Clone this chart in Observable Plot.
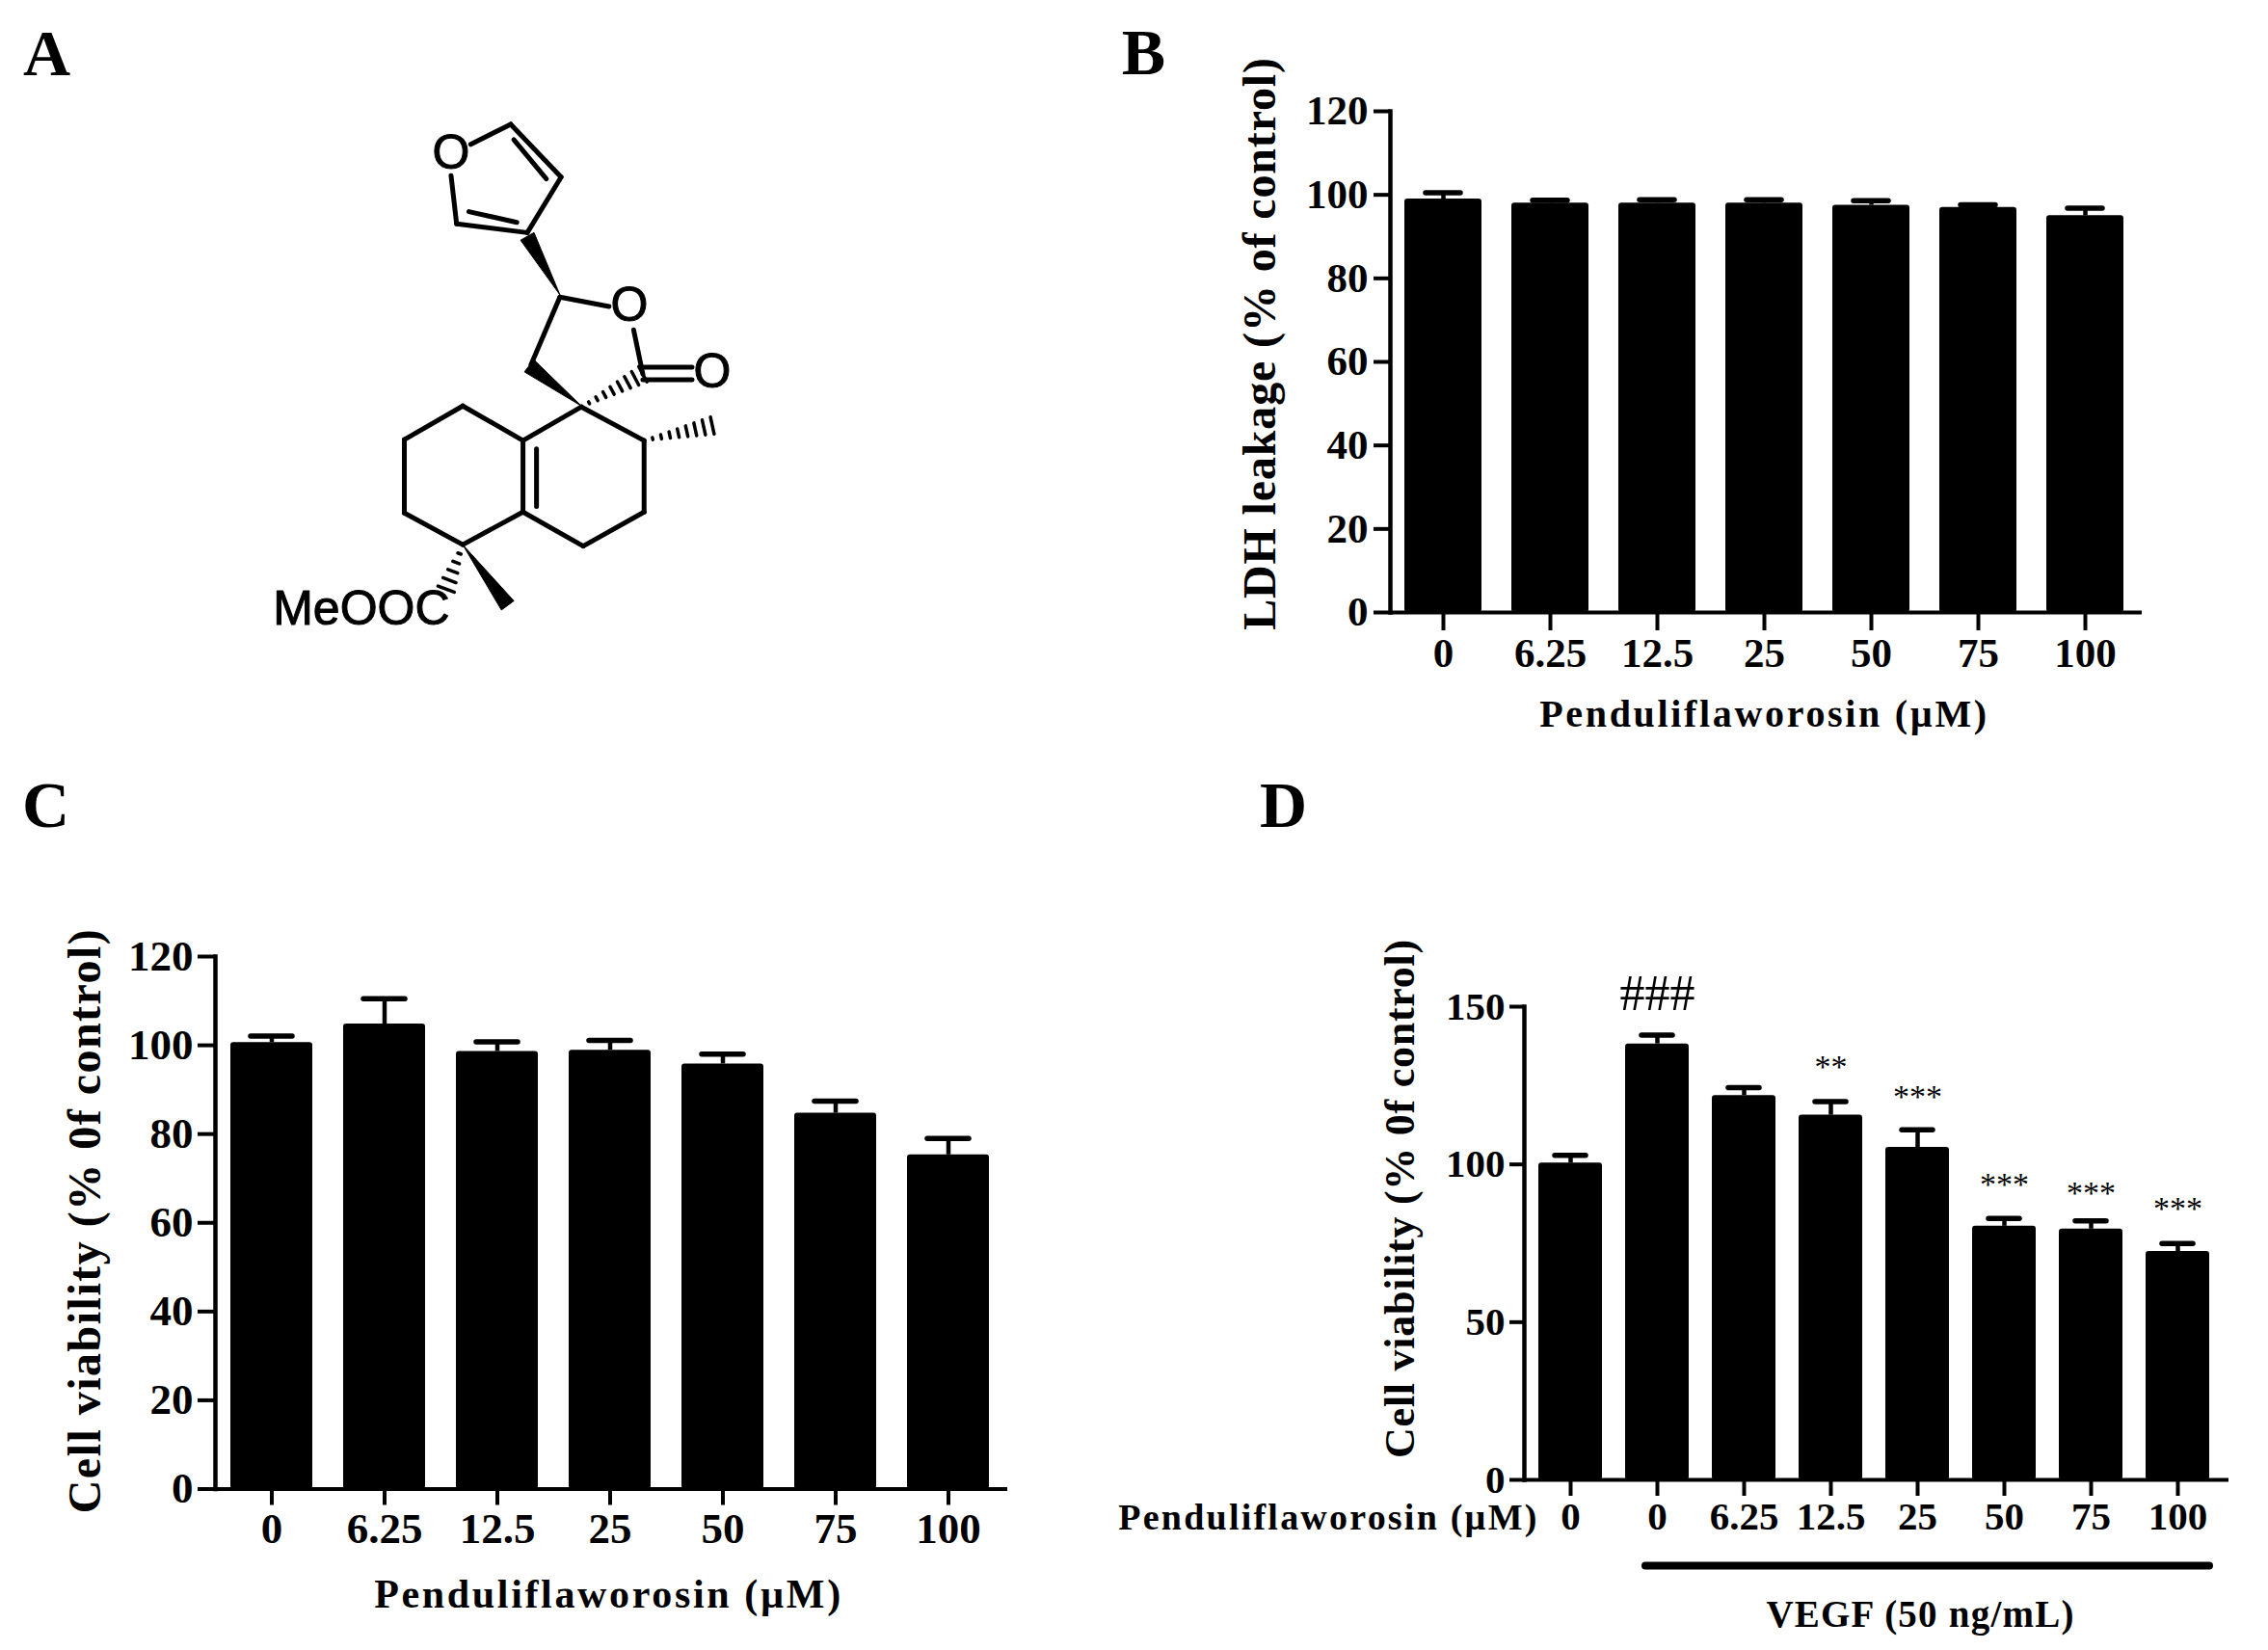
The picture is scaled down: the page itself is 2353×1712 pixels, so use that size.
<!DOCTYPE html>
<html><head><meta charset="utf-8">
<script src="https://cdn.jsdelivr.net/npm/d3@7"></script>
<script src="https://cdn.jsdelivr.net/npm/@observablehq/plot@0.6"></script>
<style>
html,body{margin:0;padding:0;background:#fff}
#page{position:relative;width:2353px;height:1712px;overflow:hidden;background:#fff}
#page svg{position:absolute;overflow:visible;max-width:none;background:transparent}
</style></head><body><div id="page"></div>
<script>
// Panel B
const dosesB = ["0","6.25","12.5","25","50","75","100"];
const ldhMean = [99,98,98,98,97.5,97,95];
const ldhUpper = [100.5,98.7,98.8,98.8,98.6,97.6,96.8];
// Panel C
const dosesC = ["0","6.25","12.5","25","50","75","100"];
const viabilityMean = [100.6,104.8,98.6,98.9,95.8,84.7,75.3];
const viabilityUpper = [102.1,110.5,100.8,101.1,98,87.4,79];
// Panel D
const dosesD = ["0","0","6.25","12.5","25","50","75","100"];
const vegfMean = [100.4,138.2,121.8,115.6,105.4,80.4,79.5,72.4];
const vegfUpper = [102.9,141,124.3,119.9,111,82.9,82.1,74.9];
const vegfMarks = ["","###","","**","***","***","***","***"];
const vegfMarkAt = [null,154,null,131,121.5,93.5,91,86];
// Panel A: structure drawing, in drawing units
const bonds = [[765,308,830,265],[830,265,912,378],[835,298,888,382],[912,378,857,497],[857,497,742,478],[762,452,840,475],[742,478,733,375],[910,635,990,655],[910,635,863,780],[1030,705,1045,800],[1045,785,1125,785],[1045,812,1125,812],[945,870,1047,942],[1047,942,1047,1095],[1047,1095,948,1168],[948,1168,850,1095],[850,1095,850,942],[850,942,945,870],[850,942,752,868],[752,868,657,940],[657,940,657,1097],[657,1097,752,1165],[752,1165,850,1095],[872,960,872,1083]];
const wedges = [[910,630,857,505],[945,868,860,782],[752,1165,825,1295]];
const hashes = [[945,870,1045,800],[1047,942,1158,910],[752,1165,725,1260]];
const atoms = [["O",733,328],["O",1023,652],["O",1158,795],["MeOOC",587,1302]];

const SERIF = "'Liberation Serif',serif", SANS = "'Liberation Sans',sans-serif";
const page = document.getElementById("page");
const add = (el,left,top)=>{el.style.left=left+"px";el.style.top=top+"px";page.appendChild(el);};
// widen a label with letter-spacing so it spans the reference's length
function fit(svg,label,target){
  for(const t of svg.querySelectorAll("text")){
    if(t.textContent===label){
      const n=label.length-1, len=t.getComputedTextLength();
      t.style.letterSpacing=((target-len)/n).toFixed(2)+"px";
    }
  }
}

function panel(o){
  const data = o.cats.map((c,i)=>({i,c,v:o.mean[i],u:o.upper[i]}));
  const ax = {fontFamily:SERIF,fontWeight:"bold",fontSize:o.tickFont,stroke:"black",strokeWidth:4};
  const txt = {fontFamily:SERIF,fontWeight:"bold",fill:"black"};
  const W=o.box[2],H=o.box[3];
  const marks = [
    Plot.barY(data,{x:"i",y:"v",fill:"black",rx:3}),
    Plot.ruleX(data,{x:"i",y1:"v",y2:"u",strokeWidth:4.5,stroke:"black"}),
    Plot.tickY(data,{x:"i",y:"u",insetLeft:o.capInset,insetRight:o.capInset,strokeWidth:5.5,stroke:"black",strokeLinecap:"round"}),
    Plot.frame({anchor:"left",stroke:"black",strokeWidth:4.5}),
    Plot.ruleY([0],{stroke:"black",strokeWidth:4}),
    Plot.axisY({ticks:o.yticks,tickFormat:d3.format("d"),label:null,tickSize:o.ytick,tickPadding:o.ypad,...ax}),
    Plot.axisX({tickFormat:i=>o.cats[i],label:null,tickSize:o.xtick,tickPadding:o.xpad,...ax}),
    Plot.text([o.letter],{frameAnchor:"top-left",dx:o.letterAt[0],dy:o.letterAt[1],...txt,fontSize:68,textAnchor:"middle",lineAnchor:"middle"}),
    Plot.text([o.ylabel],{frameAnchor:"top-left",dx:o.ylabelAt[0],dy:o.ylabelAt[1],rotate:-90,...txt,fontSize:o.yfont,textAnchor:"middle",lineAnchor:"middle"}),
    Plot.text([o.xlabel],{frameAnchor:"top-left",dx:o.xlabelAt[0],dy:o.xlabelAt[1],...txt,fontSize:o.xfont,textAnchor:"middle",lineAnchor:"middle"}),
    ...(o.extra?o.extra(data,txt):[])
  ];
  const svg = Plot.plot({
    width:W,height:H,
    marginLeft:o.m[0],marginTop:o.m[1],marginRight:o.m[2],marginBottom:o.m[3],
    style:{background:"transparent",overflow:"visible"},
    x:{type:"band",domain:d3.range(o.cats.length),range:o.xrange,paddingInner:o.pad,paddingOuter:0,align:0.5,axis:null},
    y:{domain:o.ydomain,axis:null},
    marks
  });
  add(svg,o.box[0],o.box[1]);
  o.fits.forEach(([label,target])=>fit(svg,label,target));
}

panel({letter:"B",box:[1150,0,1203,800],m:[292,115,131,165],xrange:[306,1053],pad:0.28,cats:dosesB,mean:ldhMean,upper:ldhUpper,
  ydomain:[0,120],yticks:d3.range(0,121,20),capInset:22,ytick:17,ypad:6,xtick:19,xpad:7,tickFont:43,
  letterAt:[-256,-60],ylabel:"LDH leakage (% of control)",ylabelAt:[-135,241],yfont:48,
  xlabel:"Penduliflaworosin (µM)",xlabelAt:[388,626],xfont:40,
  fits:[["LDH leakage (% of control)",594],["Penduliflaworosin (µM)",464]]});

panel({letter:"C",box:[0,800,1100,912],m:[223,192,55,167.5],xrange:[239,1026],pad:0.274,cats:dosesC,mean:viabilityMean,upper:viabilityUpper,
  ydomain:[0,120],yticks:d3.range(0,121,20),capInset:21,ytick:18,ypad:5,xtick:17,xpad:7,tickFont:45,
  letterAt:[-176,-156],ylabel:"Cell viability (% 0f control)",ylabelAt:[-135,274],yfont:48,
  xlabel:"Penduliflaworosin (µM)",xlabelAt:[408,662],xfont:42,
  fits:[["Cell viability (% 0f control)",606],["Penduliflaworosin (µM)",484]]});

panel({letter:"D",box:[1150,800,1203,912],m:[431,244,41,177],xrange:[443,1146],pad:0.264,cats:dosesD,mean:vegfMean,upper:vegfUpper,
  ydomain:[0,150],yticks:[0,50,100,150],capInset:17,ytick:15,ypad:5,xtick:17,xpad:5,tickFont:41,
  letterAt:[-250,-208],ylabel:"Cell viability (% 0f control)",ylabelAt:[-129,199],yfont:44,
  xlabel:"VEGF (50 ng/mL)",xlabelAt:[411,631],xfont:39,
  fits:[["Cell viability (% 0f control)",538],["VEGF (50 ng/mL)",319],["Penduliflaworosin (µM)",434]],
  extra:(data,txt)=>[
    Plot.text(data.filter(d=>vegfMarks[d.i]),{x:"i",y:d=>vegfMarkAt[d.i],text:d=>vegfMarks[d.i],fontFamily:SERIF,fill:"black",fontSize:d=>d.i==1?52:34,textAnchor:"middle",lineAnchor:"middle"}),
    Plot.ruleY([-27.2],{x1:()=>1,x2:()=>7,insetLeft:21,insetRight:0,stroke:"black",strokeWidth:8,strokeLinecap:"round"}),
    Plot.text(["Penduliflaworosin (µM)"],{frameAnchor:"top-left",dx:-203,dy:530,...txt,fontSize:38,textAnchor:"middle",lineAnchor:"middle"})
  ]});

// Panel A
const kx=1000/1568, ky=760/1568;
const hashLines=[];
hashes.forEach(([x0,y0,x1,y1])=>{
  const dx=(x1-x0)*kx, dy=(y1-y0)*ky, len=Math.hypot(dx,dy), n=Math.round(len/9);
  for(let s=1;s<=n;s++){
    const t=s/n, w=t*9;
    const cx=x0+(x1-x0)*t, cy=y0+(y1-y0)*t;
    hashLines.push([cx-(-dy/len)*w/kx,cy-(dx/len)*w/ky,cx+(-dy/len)*w/kx,cy+(dx/len)*w/ky]);
  }
});
const wedgePts=wedges.flatMap(([x0,y0,x1,y1],id)=>{
  const dx=(x1-x0)*kx, dy=(y1-y0)*ky, len=Math.hypot(dx,dy), w=8;
  const ox=(-dy/len)*w/kx, oy=(dx/len)*w/ky;
  return [{id,x:x0,y:y0},{id,x:x1+ox,y:y1+oy},{id,x:x1-ox,y:y1-oy},{id,x:x0,y:y0}];
});
const link=(rows,sw)=>Plot.link(rows,{x1:d=>d[0],y1:d=>d[1],x2:d=>d[2],y2:d=>d[3],stroke:"black",strokeWidth:sw,strokeLinecap:"round"});
add(Plot.plot({
  width:1000,height:760,margin:0,
  style:{background:"transparent",overflow:"visible"},
  x:{domain:[0,1568],range:[0,1000],axis:null},
  y:{domain:[0,1568],range:[0,760],axis:null},
  marks:[
    link(bonds,5),
    link(hashLines,3.5),
    Plot.line(wedgePts,{x:"x",y:"y",z:"id",fill:"black",stroke:"black",strokeWidth:1}),
    Plot.text(atoms,{x:d=>d[1],y:d=>d[2],text:d=>d[0],fontFamily:SANS,fontSize:50,fill:"black",stroke:"black",strokeWidth:1,textAnchor:"middle",lineAnchor:"middle"}),
    Plot.text(["A"],{frameAnchor:"top-left",dx:48,dy:56,fontFamily:SERIF,fontWeight:"bold",fontSize:68,fill:"black",textAnchor:"middle",lineAnchor:"middle"})
  ]
}),0,0);
</script></body></html>
